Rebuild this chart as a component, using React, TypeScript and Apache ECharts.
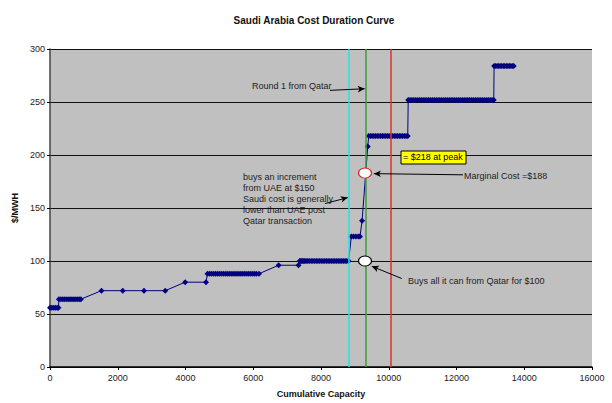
import React, { useEffect, useRef } from "react";
import * as echarts from "echarts";

// Step levels ($/MWH) and the cumulative capacities (MW) read for each step
const costLevels = [56, 64, 72, 80, 88, 96, 100, 123, 138, 208, 218, 252, 284];
const capAt56 = [0, 55, 110, 165, 215, 250];
const capAt64 = [262, 320, 380, 440, 500, 560, 620, 680, 740, 800, 860, 912];
const capAt72 = [1520, 2147, 2775, 3402];
const capAt80 = [3990, 4605];
const capAt88 = [4650, 4710, 4770, 4830, 4890, 4950, 5010, 5070, 5130, 5190, 5250, 5310, 5370, 5430, 5490, 5550, 5610, 5670, 5730, 5790, 5850, 5910, 5970, 6030, 6090, 6170];
const capAt96 = [6750, 7335];
const capAt100 = [7370, 7400, 7430, 7460, 7490, 7520, 7560, 7610, 7660, 7710, 7760, 7810, 7860, 7910, 7960, 8010, 8060, 8110, 8160, 8210, 8260, 8310, 8360, 8410, 8460, 8510, 8560, 8610, 8660, 8710, 8760, 8815];
const capAt123 = [8895, 8960, 9030, 9100, 9150];
const capAt138 = [9213];
const capAt208 = [9380];
const capAt218 = [9410, 9460, 9510, 9560, 9610, 9660, 9710, 9760, 9810, 9860, 9910, 9960, 10010, 10060, 10110, 10160, 10210, 10260, 10310, 10360, 10410, 10460, 10510, 10560];
const capAt252 = [10575, 10630, 10685, 10740, 10795, 10850, 10905, 10960, 11015, 11070, 11125, 11180, 11235, 11290, 11345, 11400, 11455, 11510, 11565, 11620, 11675, 11730, 11785, 11840, 11895, 11950, 12005, 12060, 12115, 12170, 12225, 12280, 12335, 12390, 12445, 12500, 12555, 12610, 12665, 12720, 12775, 12830, 12885, 12940, 12995, 13050, 13100];
const capAt284 = [13110, 13155, 13200, 13245, 13290, 13335, 13380, 13425, 13470, 13515, 13560, 13605, 13650, 13690];
const capacityRuns = [capAt56, capAt64, capAt72, capAt80, capAt88, capAt96, capAt100, capAt123, capAt138, capAt208, capAt218, capAt252, capAt284];

// Vertical reference lines (capacity)
const refLines = [
  { x: 8811, color: "#22E5E5" },
  { x: 9313, color: "#3E9A3E" },
  { x: 10059, color: "#E0302C" },
];

// Annotation markers (capacity, cost)
const marginalPoint = [9299, 183];
const qatarPoint = [9299, 100];

// Arrows: [start, end] in data coordinates
const arrows = [
  [[8266, 261], [9290, 262.5]],
  [[8118, 154.2], [8790, 159.8]],
  [[12192, 181.3], [9560, 182.4]],
  [[10382, 83.5], [9500, 95]],
];

const xTicks = { min: 0, max: 16000, interval: 2000 };
const yTicks = { min: 0, max: 300, interval: 50 };

const FONT = "'Liberation Sans', Arial, sans-serif";

export default function App() {
  const ref = useRef<HTMLDivElement>(null);
  useEffect(() => {
    if (!ref.current) return;
    const chart = echarts.init(ref.current, undefined, { renderer: "svg" });
    const data: number[][] = [];
    capacityRuns.forEach((run, i) => run.forEach((c) => data.push([c, costLevels[i]])));

    chart.setOption({
      animation: false,
      backgroundColor: "#ffffff",
      textStyle: { fontFamily: FONT },
      title: {
        text: "Saudi Arabia Cost Duration Curve",
        left: 309,
        textAlign: "center",
        top: 10,
        textStyle: { fontSize: 10, fontWeight: "bold", color: "#111", fontFamily: FONT },
      },
      grid: {
        left: 50,
        right: 20,
        top: 49,
        bottom: 33,
        show: true,
        backgroundColor: "#C0C0C0",
        borderWidth: 0,
      },
      xAxis: {
        type: "value",
        ...xTicks,
        name: "Cumulative Capacity",
        nameLocation: "middle",
        nameGap: 22,
        nameTextStyle: { fontSize: 9, fontWeight: "bold", color: "#111", fontFamily: FONT },
        axisLine: { lineStyle: { color: "#000", width: 1.5 } },
        axisTick: { show: true, length: 3, lineStyle: { color: "#000" } },
        axisLabel: { fontSize: 9, color: "#222", margin: 6, fontFamily: FONT, formatter: (v: number) => String(v) },
        splitLine: { show: false },
      },
      yAxis: {
        type: "value",
        ...yTicks,
        name: "$/MWH",
        nameLocation: "middle",
        nameGap: 27,
        nameTextStyle: { fontSize: 9, fontWeight: "bold", color: "#111", fontFamily: FONT },
        axisLine: { show: true, lineStyle: { color: "#444", width: 1.5 } },
        axisTick: { show: true, length: 3, lineStyle: { color: "#000" } },
        axisLabel: { fontSize: 9, color: "#222", margin: 5, fontFamily: FONT, formatter: (v: number) => String(v) },
        splitLine: { show: true, lineStyle: { color: "#111", width: 1 } },
      },
      series: [
        {
          type: "line",
          data,
          showAllSymbol: true,
          symbol: "diamond",
          symbolSize: 6,
          lineStyle: { color: "#000080", width: 1 },
          itemStyle: { color: "#000080" },
          z: 3,
          markLine: {
            silent: true,
            symbol: ["none", "none"],
            label: { show: false },
            data: refLines.map((l) => ({ xAxis: l.x, lineStyle: { color: l.color, width: 1.5, type: "solid" } })),
          },
        },
        {
          type: "scatter",
          data: [],
          z: 4,
          markLine: {
            silent: true,
            symbol: ["none", "arrow"],
            symbolSize: [5, 7],
            label: { show: false },
            lineStyle: { color: "#000", width: 1, type: "solid" },
            data: arrows.map(([s, e]) => [{ coord: s }, { coord: e }]),
          },
          markPoint: {
            silent: true,
            symbol: "circle",
            symbolSize: [13, 10],
            label: { show: false },
            data: [
              { coord: marginalPoint, itemStyle: { color: "#fff", borderColor: "#E02020", borderWidth: 1 } },
              { coord: qatarPoint, itemStyle: { color: "#fff", borderColor: "#000", borderWidth: 1 } },
            ],
          },
        },
      ],
      graphic: [
        {
          type: "text",
          left: 252,
          top: 81,
          style: { text: "Round 1 from Qatar", fontSize: 9, fill: "#222", fontFamily: FONT },
        },
        {
          type: "text",
          left: 243,
          top: 171,
          style: {
            text: "buys an increment\nfrom UAE at $150\nSaudi cost is generally\nlower than UAE post\nQatar transaction",
            fontSize: 9,
            lineHeight: 11,
            fill: "#222",
            fontFamily: FONT,
          },
        },
        {
          type: "text",
          left: 464,
          top: 171,
          style: { text: "Marginal Cost =$188", fontSize: 9, fill: "#222", fontFamily: FONT },
        },
        {
          type: "text",
          left: 408,
          top: 276,
          style: { text: "Buys all it can from Qatar for $100", fontSize: 9, fill: "#222", fontFamily: FONT },
        },
        {
          type: "rect",
          shape: { x: 401, y: 151, width: 65, height: 13 },
          style: { fill: "#FFFF00", stroke: "#000", lineWidth: 1 },
          z: 10,
        },
        {
          type: "text",
          left: 403,
          top: 152,
          z: 11,
          style: { text: "= $218 at peak", fontSize: 9, fill: "#000", fontFamily: FONT },
        },
      ],
    });
    return () => chart.dispose();
  }, []);
  return <div ref={ref} style={{ position: "fixed", left: 0, top: 0, width: 612, height: 403 }} />;
}
